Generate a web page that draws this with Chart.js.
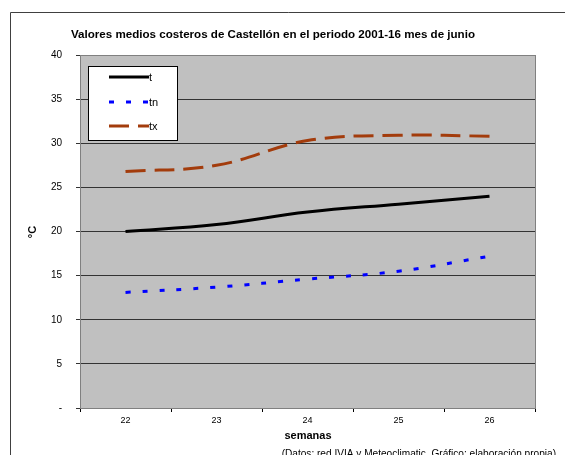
<!DOCTYPE html>
<html lang="es">
<head>
<meta charset="UTF-8">
<title>Valores medios costeros de Castellón - junio</title>
<script src="https://cdn.jsdelivr.net/npm/chart.js"></script>
<style>
  body { margin: 0; background: #fff; }
  canvas { display: block; }
</style>
</head>
<body>
<canvas id="chart" width="565" height="455"></canvas>
<script>
// semanas del mes de junio
const semanas = ["22", "23", "24", "25", "26"];
// temperaturas medias (°C)
const t  = [20.0, 20.8, 22.2, 23.1, 24.0];
const tn = [13.1, 13.7, 14.6, 15.5, 17.2];
const tx = [26.8, 27.5, 30.3, 30.9, 30.8];

const titulo = "Valores medios costeros de Castellón en el periodo 2001-16 mes de junio";
const fuente = "(Datos: red IVIA y Meteoclimatic. Gráfico: elaboración propia)";

// fondo gris, marco, textos y leyenda en recuadro
const extras = {
  id: "extras",
  beforeDraw(chart) {
    const c = chart.ctx, a = chart.chartArea;
    c.save();
    c.fillStyle = "#c0c0c0";
    c.fillRect(a.left, a.top, a.right - a.left, a.bottom - a.top);
    c.restore();
  },
  afterDraw(chart) {
    const c = chart.ctx, a = chart.chartArea;
    c.save();
    // borde del area de trazado
    c.strokeStyle = "#808080";
    c.lineWidth = 1;
    c.strokeRect(a.left + 0.5, a.top + 0.5, a.right - a.left, a.bottom - a.top);
    // marco exterior
    c.strokeStyle = "#404040";
    c.beginPath();
    c.moveTo(10.5, 460); c.lineTo(10.5, 12.5); c.lineTo(570, 12.5);
    c.stroke();

    c.fillStyle = "#000";
    c.textAlign = "center";
    c.textBaseline = "middle";
    c.font = "bold 11.6px 'Liberation Sans', Arial, sans-serif";
    c.fillText(titulo, 273, 35);
    c.font = "bold 11px 'Liberation Sans', Arial, sans-serif";
    c.fillText("semanas", 308, 436);
    c.save();
    c.translate(33, 232);
    c.rotate(-Math.PI / 2);
    c.fillText("°C", 0, 0);
    c.restore();
    c.font = "10.1px 'Liberation Sans', Arial, sans-serif";
    c.textAlign = "right";
    c.textBaseline = "alphabetic";
    c.fillText(fuente, 556, 457);

    // leyenda
    c.fillStyle = "#fff";
    c.fillRect(88, 66, 89, 74);
    c.strokeStyle = "#000";
    c.strokeRect(88.5, 66.5, 89, 74);
    const filas = [77, 102, 126];
    chart.data.datasets.forEach((ds, i) => {
      const y = filas[i];
      c.strokeStyle = ds.borderColor;
      c.lineWidth = ds.borderWidth;
      c.setLineDash(ds.borderDash || []);
      c.beginPath();
      c.moveTo(109, y); c.lineTo(149, y);
      c.stroke();
      c.setLineDash([]);
      c.fillStyle = "#000";
      c.font = "11px 'Liberation Sans', Arial, sans-serif";
      c.textAlign = "left";
      c.textBaseline = "middle";
      c.fillText(ds.label, 149, y + 1);
    });
    c.restore();
  }
};

new Chart(document.getElementById("chart"), {
  type: "line",
  data: {
    labels: semanas,
    datasets: [
      { label: "t",  data: t,  borderColor: "#000000", borderWidth: 3 },
      { label: "tn", data: tn, borderColor: "#0000ff", borderWidth: 3, borderDash: [5, 12] },
      { label: "tx", data: tx, borderColor: "#a33c0c", borderWidth: 3, borderDash: [20, 9] }
    ]
  },
  options: {
    responsive: false,
    animation: false,
    layout: { padding: { top: 55, right: 30, left: 0, bottom: 0 } },
    elements: {
      point: { radius: 0 },
      line: { tension: 0.4, fill: false, borderCapStyle: "butt" }
    },
    plugins: {
      legend: { display: false },
      title: { display: false },
      tooltip: { enabled: false }
    },
    scales: {
      x: {
        type: "category",
        offset: true,
        afterFit(s) { s.height = 47; },
        grid: { offset: true, drawOnChartArea: false, drawTicks: true, tickLength: 4, color: "#000" },
        border: { color: "#000" },
        ticks: { color: "#000", padding: 3, font: { size: 9, family: "'Liberation Sans', Arial" } }
      },
      y: {
        min: 0,
        max: 40,
        afterFit(s) { s.width = 80; },
        grid: { color: "#333", tickLength: 4 },
        border: { color: "#000" },
        ticks: {
          stepSize: 5,
          color: "#000",
          padding: 14,
          font: { size: 10, family: "'Liberation Sans', Arial" },
          callback: v => v === 0 ? "-" : v
        }
      }
    }
  },
  plugins: [extras]
});
</script>
</body>
</html>
